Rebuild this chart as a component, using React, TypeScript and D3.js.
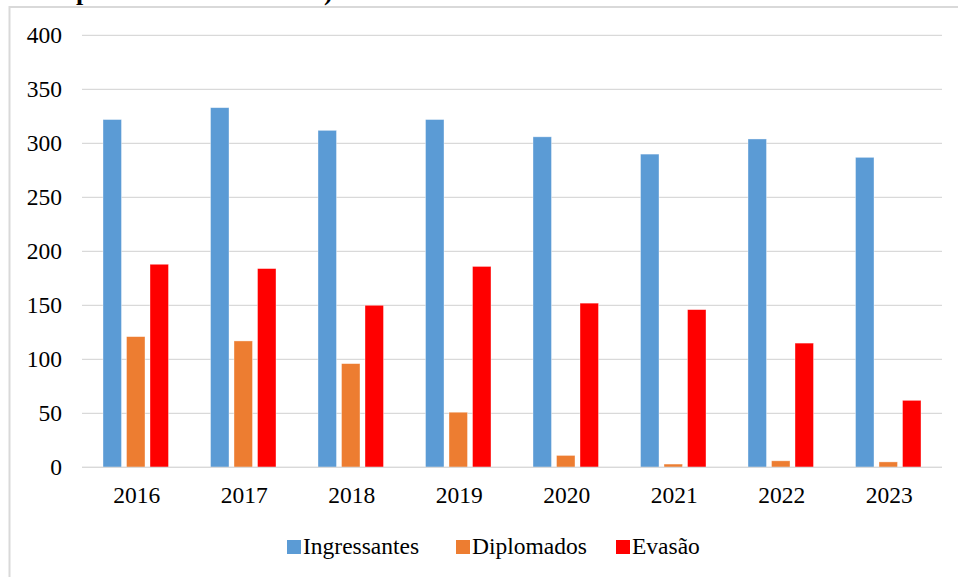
import React from "react";
import * as d3 from "d3";

const years = ["2016", "2017", "2018", "2019", "2020", "2021", "2022", "2023"];
const seriesNames = ["Ingressantes", "Diplomados", "Evasão"];
const ingressantes = [322, 333, 312, 322, 306, 290, 304, 287];
const diplomados = [121, 117, 96, 51, 11, 3, 6, 5];
const evasao = [188, 184, 150, 186, 152, 146, 115, 62];
const yTicks = [0, 50, 100, 150, 200, 250, 300, 350, 400];
const colors = ["#5B9BD5", "#ED7D31", "#FF0000"];

const W = 958;
const H = 577;
const FONT = "Liberation Serif";
const FS = 23.5;

export default function App() {
  React.useEffect(() => {
    document.body.style.margin = "0";
  }, []);

  const values = [ingressantes, diplomados, evasao];
  const x = d3.scaleBand<string>().domain(years).range([82, 942]).padding(0);
  const inner = d3
    .scaleBand<string>()
    .domain(seriesNames)
    .range([-35.25, 35.25])
    .paddingInner(0.213)
    .paddingOuter(0.1065);
  const y = d3.scaleLinear().domain([0, 400]).range([467.3, 35.3]);

  const legendX = [287, 456, 616];

  return (
    <svg width={W} height={H} style={{ position: "absolute", left: 0, top: 0, background: "#fff" }}>
      <rect x={0} y={0} width={W} height={H} fill="#fff" />
      {/* clipped title fragments visible at the top edge */}
      <text x={76} y={-0.5} fontSize={26} fontWeight="bold" fill="#000" fontFamily={FONT}>p</text>
      <text x={324} y={-0.5} fontSize={26} fontWeight="bold" fill="#000" fontFamily={FONT}>)</text>
      {/* chart border */}
      <rect x={9.5} y={7} width={W + 20} height={H + 20} fill="none" stroke="#d9d9d9" strokeWidth={2} />
      {/* gridlines */}
      {yTicks.map((t) => (
        <line key={t} x1={82} x2={942} y1={y(t)} y2={y(t)} stroke="#d9d9d9" strokeWidth={1.3} />
      ))}
      {/* y labels */}
      {yTicks.map((t) => (
        <text key={"l" + t} x={62} y={y(t) + 7.5} textAnchor="end" fontSize={FS} fill="#000" fontFamily={FONT}>
          {t}
        </text>
      ))}
      {/* bars */}
      {years.map((yr, i) => (
        <g key={yr}>
          {seriesNames.map((s, j) => {
            const cx = (x(yr) as number) + x.bandwidth() / 2 + (inner(s) as number);
            const v = values[j][i];
            return (
              <rect
                key={s}
                x={cx}
                y={y(v)}
                width={inner.bandwidth()}
                height={y(0) - y(v)}
                fill={colors[j]}
                stroke="#ffffff"
                strokeOpacity={0.5}
                strokeWidth={0.75}
              />
            );
          })}
        </g>
      ))}
      {/* baseline */}
      <line x1={82} x2={942} y1={y(0)} y2={y(0)} stroke="#d9d9d9" strokeWidth={1.3} />
      {/* x labels */}
      {years.map((yr) => (
        <text
          key={"x" + yr}
          x={(x(yr) as number) + x.bandwidth() / 2 + 1}
          y={503}
          textAnchor="middle"
          fontSize={FS}
          fill="#000"
          fontFamily={FONT}
        >
          {yr}
        </text>
      ))}
      {/* legend */}
      {seriesNames.map((s, j) => (
        <g key={"lg" + s}>
          <rect x={legendX[j]} y={540} width={14} height={14} fill={colors[j]} />
          <text x={legendX[j] + 16} y={553.5} fontSize={FS} fill="#000" fontFamily={FONT}>
            {s}
          </text>
        </g>
      ))}
    </svg>
  );
}
